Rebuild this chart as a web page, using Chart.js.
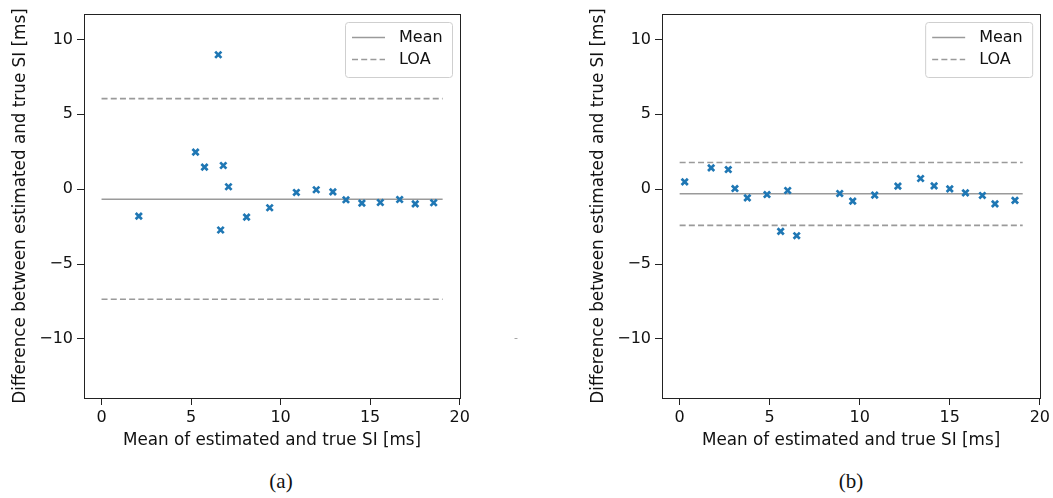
<!DOCTYPE html>
<html>
<head>
<meta charset="utf-8">
<script src="https://cdn.jsdelivr.net/npm/chart.js@4.4.0/dist/chart.umd.min.js"></script>
<style>
    body { margin: 0; background: #fff; width: 1053px; height: 498px; position: relative; overflow: hidden; font-family: 'DejaVu Sans', sans-serif; }
    .box { position: absolute; top: 0; height: 460px; }
    #wa { left: 0; width: 530px; }
    #wb { left: 578px; width: 475px; }
    .cap { position: absolute; top: 469px; font-family: 'Liberation Serif', serif; font-size: 21px; color: #111; transform: translateX(-50%); }
    .dot { position: absolute; left: 514px; top: 331px; font-size: 11px; color: #999; }
</style>
</head>
<body>
<div class="box" id="wa"><canvas id="ca"></canvas></div>
<div class="box" id="wb"><canvas id="cb"></canvas></div>
<div class="cap" style="left:281px">(a)</div>
<div class="cap" style="left:851px">(b)</div>
<div class="dot">-</div>
<script>
// tick labels
const xTicks = [0, 5, 10, 15, 20];
const yTicks = [-10, -5, 0, 5, 10];

// (a) mean vs difference
const xA = [2.08, 5.25, 5.75, 6.52, 6.65, 6.80, 7.09, 8.10, 9.39, 10.88, 11.99, 12.92, 13.65, 14.54, 15.57, 16.65, 17.52, 18.55];
const yA = [-1.8, 2.47, 1.47, 8.98, -2.73, 1.58, 0.16, -1.87, -1.24, -0.22, -0.04, -0.18, -0.71, -0.93, -0.89, -0.69, -0.98, -0.91];
const meanA = -0.67;
const loaA = [6.05, -7.35];

// (b)
const xB = [0.28, 1.75, 2.70, 3.07, 3.76, 4.85, 5.61, 6.00, 6.50, 8.89, 9.61, 10.83, 12.12, 13.38, 14.13, 15.00, 15.87, 16.81, 17.51, 18.62];
const yB = [0.49, 1.42, 1.31, 0.04, -0.58, -0.36, -2.82, -0.09, -3.11, -0.29, -0.80, -0.40, 0.20, 0.71, 0.22, 0.02, -0.25, -0.42, -0.98, -0.75];
const meanB = -0.31;
const loaB = [1.78, -2.42];

// extent of the horizontal lines
const lineX = [0, 19.05];

const font = { family: 'DejaVu Sans', size: 16 };
const titleFont = { family: 'DejaVu Sans', size: 16.8 };
const ink = '#222';
const lineCol = '#9a9a9a';

const framePlugin = {
    id: 'frame',
    afterDatasetsDraw(chart) {
        const a = chart.chartArea, c = chart.ctx;
        c.save();
        c.strokeStyle = ink;
        c.lineWidth = 1;
        c.strokeRect(Math.round(a.left) + 0.5, Math.round(a.top) + 0.5, Math.round(a.right - a.left), Math.round(a.bottom - a.top));
        c.restore();
    }
};

const legendBox = {
    id: 'legendBox',
    afterDraw(chart) {
        const a = chart.chartArea, c = chart.ctx;
        const w = 107, h = 55;
        const left = a.right - 8 - w, top = a.top + 8;
        c.save();
        c.fillStyle = 'rgba(255,255,255,0.85)';
        c.strokeStyle = '#cfcfcf';
        c.lineWidth = 1;
        c.beginPath();
        c.roundRect(left + 0.5, top + 0.5, w, h, 3);
        c.fill();
        c.stroke();
        const items = [
            { text: 'Mean', ds: chart.data.datasets[1] },
            { text: 'LOA', ds: chart.data.datasets[2] }
        ];
        items.forEach((it, i) => {
            const y = top + 15.5 + i * 22;
            c.strokeStyle = it.ds.borderColor;
            c.lineWidth = it.ds.borderWidth;
            c.setLineDash(it.ds.borderDash || []);
            c.beginPath();
            c.moveTo(left + 7, y);
            c.lineTo(left + 40, y);
            c.stroke();
            c.setLineDash([]);
            c.fillStyle = '#111';
            c.font = '16px "DejaVu Sans"';
            c.textBaseline = 'middle';
            c.fillText(it.text, left + 54, y);
        });
        c.restore();
    }
};

function hline(y, dash) {
    return {
        type: 'line',
        data: lineX.map(x => ({ x: x, y: y })),
        borderColor: lineCol,
        borderWidth: 1.6,
        borderDash: dash,
        pointRadius: 0,
        fill: false
    };
}

function makeChart(id, xs, ys, mean, loa, padRight) {
    return new Chart(document.getElementById(id), {
        type: 'scatter',
        data: {
            datasets: [
                {
                    data: xs.map((x, i) => ({ x: x, y: ys[i] })),
                    pointStyle: 'crossRot',
                    pointRadius: 4.4,
                    borderWidth: 2.7,
                    borderColor: '#1f77b4',
                    backgroundColor: '#1f77b4'
                },
                hline(mean, []),
                hline(loa[0], [6, 3.2]),
                hline(loa[1], [6, 3.2])
            ]
        },
        options: {
            responsive: true,
            maintainAspectRatio: false,
            animation: false,
            layout: { padding: { top: 14, right: padRight, left: 0, bottom: 0 } },
            plugins: { legend: { display: false }, tooltip: { enabled: false } },
            scales: {
                x: {
                    type: 'linear',
                    min: -0.98,
                    max: 20.02,
                    afterBuildTicks: s => { s.ticks = xTicks.map(v => ({ value: v })); },
                    afterFit: s => { s.height = 62; },
                    ticks: { font: font, color: '#111', padding: 3, maxRotation: 0 },
                    grid: { drawOnChartArea: false, tickLength: 7, color: ink },
                    border: { display: false },
                    title: { display: true, text: 'Mean of estimated and true SI [ms]', font: titleFont, color: '#111', padding: { top: 0, bottom: 9 } }
                },
                y: {
                    type: 'linear',
                    min: -13.95,
                    max: 11.7,
                    afterBuildTicks: s => { s.ticks = yTicks.map(v => ({ value: v })); },
                    afterFit: s => { s.width = 84; },
                    ticks: { font: font, color: '#111', padding: 4, callback: v => String(v).replace('-', '\u2212') },
                    grid: { drawOnChartArea: false, tickLength: 7, color: ink },
                    border: { display: false },
                    title: { display: true, text: 'Difference between estimated and true SI [ms]', font: titleFont, color: '#111', padding: { top: 11, bottom: 0 } }
                }
            }
        },
        plugins: [framePlugin, legendBox]
    });
}

makeChart('ca', xA, yA, meanA, loaA, 70);
makeChart('cb', xB, yB, meanB, loaB, 12);
</script>
</body>
</html>
